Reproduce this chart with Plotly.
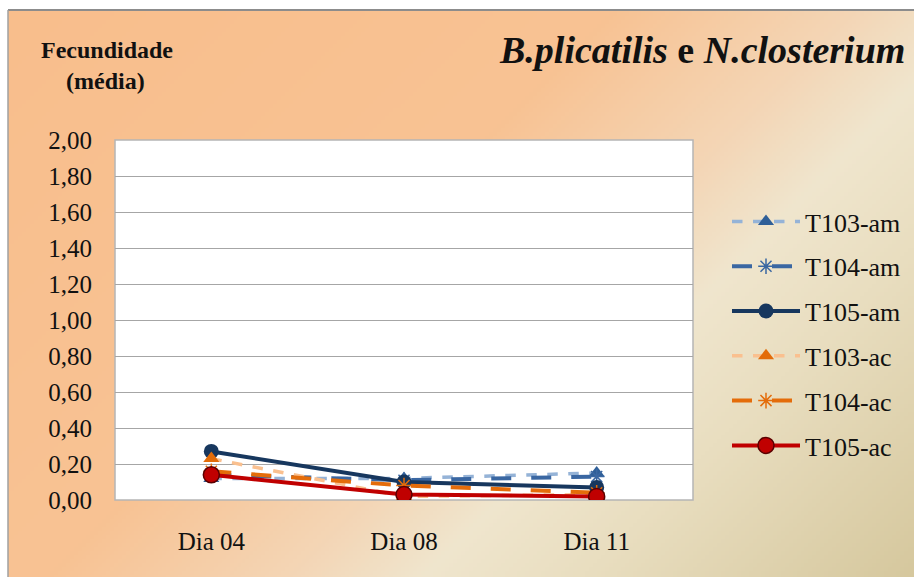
import base64
import struct
import zlib

import numpy as np
import plotly.graph_objects as go

# ---- data ----
days = ["Dia 04", "Dia 08", "Dia 11"]
t103_am = [0.12, 0.12, 0.15]
t104_am = [0.14, 0.11, 0.13]
t105_am = [0.27, 0.10, 0.07]
t103_ac = [0.23, 0.02, 0.03]
t104_ac = [0.16, 0.08, 0.04]
t105_ac = [0.14, 0.03, 0.02]
y_ticks = [0.0, 0.2, 0.4, 0.6, 0.8, 1.0, 1.2, 1.4, 1.6, 1.8, 2.0]

W, H = 914, 577
L, R, T, B = 115, 221, 140, 77
PW, PH = W - L - R, H - T - B
SERIF = "Liberation Serif"


def px_x(px):
    return (px - L) / PW


def px_y(py):
    return (H - B - py) / PH


def png_uri(rgb):
    h, w, _ = rgb.shape
    raw = b"".join(b"\x00" + rgb[j].tobytes() for j in range(h))

    def chunk(tag, data):
        c = struct.pack(">I", len(data)) + tag + data
        return c + struct.pack(">I", zlib.crc32(tag + data) & 0xFFFFFFFF)

    png = b"\x89PNG\r\n\x1a\n"
    png += chunk(b"IHDR", struct.pack(">IIBBBBB", w, h, 8, 2, 0, 0, 0))
    png += chunk(b"IDAT", zlib.compress(raw, 9))
    png += chunk(b"IEND", b"")
    return "data:image/png;base64," + base64.b64encode(png).decode()


# diagonal peach-to-cream background
x0b, y0b = 8, 10
gw, gh = 227, 142
xs = x0b + (np.arange(gw) + 0.5) * (W - x0b) / gw
ys = y0b + (np.arange(gh) + 0.5) * (H - y0b) / gh
XX, YY = np.meshgrid(xs, ys)
tt = (XX + YY) / (W + H)
stops = [0.0, 0.42, 0.58, 0.67, 0.78, 1.0]
cols = np.array([
    [249, 190, 140],
    [248, 195, 148],
    [244, 214, 182],
    [240, 230, 206],
    [233, 222, 192],
    [214, 200, 158],
], dtype=float)
img = np.stack([np.interp(tt, stops, cols[:, k]) for k in range(3)], axis=-1)
img = np.clip(img, 0, 255).astype(np.uint8)
bg_uri = png_uri(img)

fig = go.Figure()

series = [
    ("T103-am", t103_am, dict(color="#95B3D7", width=3.5, dash="dash"),
     dict(symbol="triangle-up", size=14, color="#2F5F98")),
    ("T104-am", t104_am, dict(color="#3A67A2", width=4, dash="longdash"),
     dict(symbol="asterisk-open", size=13, color="#3A67A2", line=dict(color="#3A67A2", width=1.5))),
    ("T105-am", t105_am, dict(color="#17375E", width=4),
     dict(symbol="circle", size=15, color="#17375E")),
    ("T103-ac", t103_ac, dict(color="#FAC08F", width=3.5, dash="dash"),
     dict(symbol="triangle-up", size=14, color="#E36C09")),
    ("T104-ac", t104_ac, dict(color="#E46C0A", width=4, dash="longdash"),
     dict(symbol="asterisk-open", size=13, color="#E46C0A", line=dict(color="#E46C0A", width=1.5))),
    ("T105-ac", t105_ac, dict(color="#C00000", width=4),
     dict(symbol="circle", size=16, color="#C00000", line=dict(color="#5A0000", width=1.5))),
]

for name, vals, line, marker in series:
    fig.add_trace(go.Scatter(
        x=days, y=vals, name=name, mode="lines+markers",
        line=line, marker=marker, legendgroup=name,
    ))

fig.update_layout(
    width=W, height=H,
    margin=dict(l=L, r=R, t=T, b=B, autoexpand=False),
    paper_bgcolor="white",
    plot_bgcolor="rgba(0,0,0,0)",
    separators=",.",
    font=dict(family=SERIF, color="#111111"),
    showlegend=True,
    legend=dict(
        x=px_x(727), y=px_y(198), xanchor="left", yanchor="top",
        bgcolor="rgba(0,0,0,0)", font=dict(family=SERIF, size=26, color="#111111"),
        itemwidth=68, tracegroupgap=8, traceorder="grouped",
    ),
    images=[dict(
        source=bg_uri, xref="paper", yref="paper",
        x=px_x(x0b), y=px_y(y0b),
        sizex=(W - x0b) / PW, sizey=(H - y0b) / PH,
        xanchor="left", yanchor="top", sizing="stretch", layer="below",
    )],
    shapes=[
        dict(type="rect", xref="paper", yref="paper", x0=0, x1=1, y0=0, y1=1,
             fillcolor="white", line=dict(color="#B5B5B5", width=1.5), layer="below"),
        dict(type="line", xref="paper", yref="paper",
             x0=px_x(x0b), x1=px_x(W), y0=px_y(y0b), y1=px_y(y0b),
             line=dict(color="#8C8C8C", width=2), layer="below"),
        dict(type="line", xref="paper", yref="paper",
             x0=px_x(x0b), x1=px_x(x0b), y0=px_y(y0b), y1=px_y(H),
             line=dict(color="#A0A0A0", width=1.5), layer="below"),
    ],
    annotations=[
        dict(text="<b><i>B.plicatilis</i> e <i>N.closterium</i></b>",
             xref="paper", yref="paper", x=px_x(907), y=px_y(50),
             xanchor="right", yanchor="middle", showarrow=False,
             font=dict(family=SERIF, size=38, color="#111111")),
        dict(text="<b>Fecundidade</b>", xref="paper", yref="paper",
             x=px_x(107), y=px_y(50), xanchor="center", yanchor="middle",
             showarrow=False, font=dict(family=SERIF, size=24, color="#111111")),
        dict(text="<b>(média)</b>", xref="paper", yref="paper",
             x=px_x(105), y=px_y(81), xanchor="center", yanchor="middle",
             showarrow=False, font=dict(family=SERIF, size=24, color="#111111")),
    ],
)

fig.update_xaxes(
    type="category", range=[-0.5, 2.5], showgrid=False, zeroline=False,
    showline=False, ticks="", tickfont=dict(family=SERIF, size=25, color="#111111"),
    ticklabelstandoff=24, fixedrange=True,
)
fig.update_yaxes(
    range=[0, 2], tickvals=y_ticks, tickformat=".2f", showgrid=True,
    gridcolor="#A6A6A6", gridwidth=1.2, zeroline=False, showline=False,
    ticks="", tickfont=dict(family=SERIF, size=25, color="#111111"), ticklabelstandoff=22,
    fixedrange=True,
)

fig.write_html("out.html")
